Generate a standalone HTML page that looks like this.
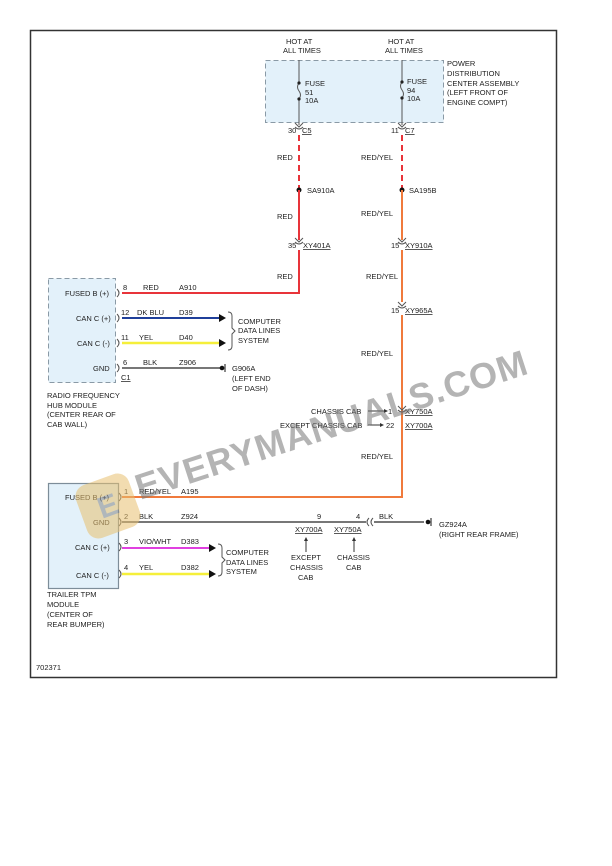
<!DOCTYPE html>
<html><head><style>
html,body{margin:0;padding:0;background:#fff;}
svg{display:block;font-family:"Liberation Sans",Arial,sans-serif;}
text{font-size:7.5px;fill:#222;}
.u{text-decoration:underline;}
</style></head><body>
<svg width="612" height="866" viewBox="0 0 612 866" xmlns="http://www.w3.org/2000/svg">
<rect x="30.5" y="30.5" width="526" height="647" fill="#fff" stroke="#333" stroke-width="1.5"/>
<rect x="265.5" y="60.5" width="178" height="62" fill="#e3f1fa" stroke="#8a9aa6" stroke-dasharray="5,3"/>
<text x="286" y="44">HOT AT</text><text x="283" y="53">ALL TIMES</text>
<text x="388" y="44">HOT AT</text><text x="385" y="53">ALL TIMES</text>
<text x="447" y="66">POWER</text><text x="447" y="76">DISTRIBUTION</text><text x="447" y="86">CENTER ASSEMBLY</text><text x="447" y="95">(LEFT FRONT OF</text><text x="447" y="105">ENGINE COMPT)</text>
<g stroke="#555" stroke-width="1" fill="none">
<line x1="299" y1="60" x2="299" y2="83"/><path d="M299 83 q-3 4 0 8 q3 4 0 8"/><line x1="299" y1="99" x2="299" y2="125"/>
<line x1="402" y1="60" x2="402" y2="82"/><path d="M402 82 q-3 4 0 8 q3 4 0 8"/><line x1="402" y1="98" x2="402" y2="125"/>
<path d="M295 123 l4 4 l4 -4 M295 127 q4 4 8 0"/><path d="M398 123 l4 4 l4 -4 M398 127 q4 4 8 0"/>
</g>
<circle cx="299" cy="83" r="1.6" fill="#222"/><circle cx="299" cy="99" r="1.6" fill="#222"/>
<circle cx="402" cy="82" r="1.6" fill="#222"/><circle cx="402" cy="98" r="1.6" fill="#222"/>
<text x="305" y="86">FUSE</text><text x="305" y="95">51</text><text x="305" y="103">10A</text>
<text x="407" y="84">FUSE</text><text x="407" y="93">94</text><text x="407" y="101">10A</text>
<text x="288" y="133">30</text><text x="302" y="133" class="u">C5</text>
<text x="391" y="133">11</text><text x="405" y="133" class="u">C7</text>
<line x1="299" y1="135" x2="299" y2="190" stroke="#e8343a" stroke-width="2" stroke-dasharray="6,4"/>
<circle cx="299" cy="190" r="2.5" fill="#111"/><text x="307" y="193">SA910A</text>
<text x="277" y="160">RED</text><text x="277" y="219">RED</text><text x="277" y="279">RED</text>
<line x1="299" y1="190" x2="299" y2="240" stroke="#e8343a" stroke-width="2"/>
<path d="M295 238 l4 4 l4 -4 M295 242 q4 4 8 0" stroke="#555" fill="none"/>
<text x="288" y="248">35</text><text x="303" y="248" class="u">XY401A</text>
<polyline points="299,250 299,293 122,293" stroke="#e8343a" stroke-width="2" fill="none"/>
<line x1="402" y1="135" x2="402" y2="190" stroke="#e8343a" stroke-width="2" stroke-dasharray="6,4"/>
<circle cx="402" cy="190" r="2.5" fill="#111"/><text x="409" y="193">SA195B</text>
<text x="361" y="160">RED/YEL</text><text x="361" y="216">RED/YEL</text><text x="366" y="279">RED/YEL</text>
<text x="361" y="356">RED/YEL</text><text x="361" y="459">RED/YEL</text>
<line x1="402" y1="190" x2="402" y2="240" stroke="#f07a3c" stroke-width="2"/>
<line x1="402" y1="250" x2="402" y2="302" stroke="#f07a3c" stroke-width="2"/>
<polyline points="402,315 402,497 122,497" stroke="#f07a3c" stroke-width="2" fill="none"/>
<path d="M398 238 l4 4 l4 -4 M398 242 q4 4 8 0 M398 302 l4 4 l4 -4 M398 306 q4 4 8 0 M398 406 l4 4 l4 -4 M398 410 q4 4 8 0" stroke="#555" fill="none"/>
<text x="391" y="248">15</text><text x="405" y="248" class="u">XY910A</text>
<text x="391" y="313">15</text><text x="405" y="313" class="u">XY965A</text>
<text x="311" y="414">CHASSIS CAB</text><line x1="368" y1="411" x2="384" y2="411" stroke="#333"/><path d="M384 409 l4 2 l-4 2z" fill="#333"/>
<text x="388" y="414">1</text><text x="405" y="414" class="u">XY750A</text>
<text x="280" y="428">EXCEPT CHASSIS CAB</text><line x1="368" y1="425" x2="380" y2="425" stroke="#333"/><path d="M380 423 l4 2 l-4 2z" fill="#333"/>
<text x="386" y="428">22</text><text x="405" y="428" class="u">XY700A</text>
<rect x="48.5" y="278.5" width="67" height="104" fill="#e3f1fa" stroke="#8a9aa6" stroke-dasharray="5,3"/>
<text x="65" y="296">FUSED B (+)</text><text x="76" y="321">CAN C (+)</text><text x="77" y="346">CAN C (-)</text><text x="93" y="371">GND</text>
<g stroke="#555" fill="none"><path d="M117 289 q4 4 0 8"/><path d="M117 314 q4 4 0 8"/><path d="M117 339 q4 4 0 8"/><path d="M117 364 q4 4 0 8"/></g>
<text x="123" y="290">8</text><text x="143" y="290">RED</text><text x="179" y="290">A910</text>
<text x="121" y="315">12</text><text x="137" y="315">DK BLU</text><text x="179" y="315">D39</text>
<text x="121" y="340">11</text><text x="139" y="340">YEL</text><text x="179" y="340">D40</text>
<text x="123" y="365">6</text><text x="143" y="365">BLK</text><text x="179" y="365">Z906</text>
<text x="121" y="380" class="u">C1</text>
<line x1="122" y1="318" x2="220" y2="318" stroke="#1f3f9a" stroke-width="2"/><path d="M219 314 l7 4 l-7 4z" fill="#111"/>
<line x1="122" y1="343" x2="220" y2="343" stroke="#f5ef3a" stroke-width="2.5"/><path d="M219 339 l7 4 l-7 4z" fill="#111"/>
<path d="M228 312 q4 0 4 4 v12 l3 3 l-3 3 v12 q0 4 -4 4" stroke="#555" fill="none"/>
<text x="238" y="324">COMPUTER</text><text x="238" y="333">DATA LINES</text><text x="238" y="343">SYSTEM</text>
<line x1="122" y1="368" x2="220" y2="368" stroke="#777" stroke-width="2"/>
<circle cx="222" cy="368" r="2.3" fill="#111"/><line x1="225" y1="364" x2="225" y2="372" stroke="#111"/>
<text x="232" y="371">G906A</text><text x="232" y="381">(LEFT END</text><text x="232" y="391">OF DASH)</text>
<text x="47" y="398">RADIO FREQUENCY</text><text x="47" y="408">HUB MODULE</text><text x="47" y="417">(CENTER REAR OF</text><text x="47" y="427">CAB WALL)</text>
<rect x="48.5" y="483.5" width="70" height="105" fill="#e3f1fa" stroke="#7d8d99" stroke-width="1.2"/>
<text x="65" y="500">FUSED B (+)</text><text x="93" y="525">GND</text><text x="75" y="550">CAN C (+)</text><text x="76" y="578">CAN C (-)</text>
<g stroke="#555" fill="none"><path d="M119 493 q4 4 0 8"/><path d="M119 518 q4 4 0 8"/><path d="M119 543 q4 4 0 8"/><path d="M119 570 q4 4 0 8"/></g>
<text x="124" y="494">1</text><text x="139" y="494">RED/YEL</text><text x="181" y="494">A195</text>
<text x="124" y="519">2</text><text x="139" y="519">BLK</text><text x="181" y="519">Z924</text>
<text x="124" y="544">3</text><text x="139" y="544">VIO/WHT</text><text x="181" y="544">D383</text>
<text x="124" y="570">4</text><text x="139" y="570">YEL</text><text x="181" y="570">D382</text>
<line x1="122" y1="522" x2="366" y2="522" stroke="#777" stroke-width="2"/>
<path d="M369 518 q-4 4 0 8 M373 518 q-4 4 0 8" stroke="#555" fill="none"/>
<line x1="374" y1="522" x2="424" y2="522" stroke="#777" stroke-width="2"/>
<circle cx="428" cy="522" r="2.3" fill="#111"/><line x1="431" y1="518" x2="431" y2="526" stroke="#111"/>
<text x="317" y="519">9</text><text x="356" y="519">4</text><text x="379" y="519">BLK</text>
<text x="439" y="527">GZ924A</text><text x="439" y="537">(RIGHT REAR FRAME)</text>
<text x="295" y="532" class="u">XY700A</text><text x="334" y="532" class="u">XY750A</text>
<line x1="306" y1="552" x2="306" y2="540" stroke="#333"/><path d="M304 541 l2 -4 l2 4z" fill="#333"/>
<line x1="354" y1="552" x2="354" y2="540" stroke="#333"/><path d="M352 541 l2 -4 l2 4z" fill="#333"/>
<text x="291" y="560">EXCEPT</text><text x="290" y="570">CHASSIS</text><text x="298" y="580">CAB</text>
<text x="337" y="560">CHASSIS</text><text x="346" y="570">CAB</text>
<line x1="122" y1="548" x2="210" y2="548" stroke="#e040e0" stroke-width="2"/><path d="M209 544 l7 4 l-7 4z" fill="#111"/>
<line x1="122" y1="574" x2="210" y2="574" stroke="#f5ef3a" stroke-width="2.5"/><path d="M209 570 l7 4 l-7 4z" fill="#111"/>
<path d="M218 544 q4 0 4 4 v9 l3 3 l-3 3 v9 q0 4 -4 4" stroke="#555" fill="none"/>
<text x="226" y="555">COMPUTER</text><text x="226" y="565">DATA LINES</text><text x="226" y="574">SYSTEM</text>
<text x="47" y="597">TRAILER TPM</text><text x="47" y="607">MODULE</text><text x="47" y="617">(CENTER OF</text><text x="47" y="627">REAR BUMPER)</text>
<text x="36" y="670">702371</text>
<g opacity="0.55">
<rect x="80" y="478" width="56" height="56" rx="12" fill="#e8c070" transform="rotate(-20 108 506)"/>
<text x="98" y="516" style="font-size:30px;font-weight:bold;fill:#888" transform="rotate(-20 108 506)">E</text>
<text x="140" y="500" style="font-size:36px;font-weight:bold;fill:#777;letter-spacing:1px" transform="rotate(-18 140 500)">EVERYMANUALS.COM</text>
</g>
</svg>
</body></html>
